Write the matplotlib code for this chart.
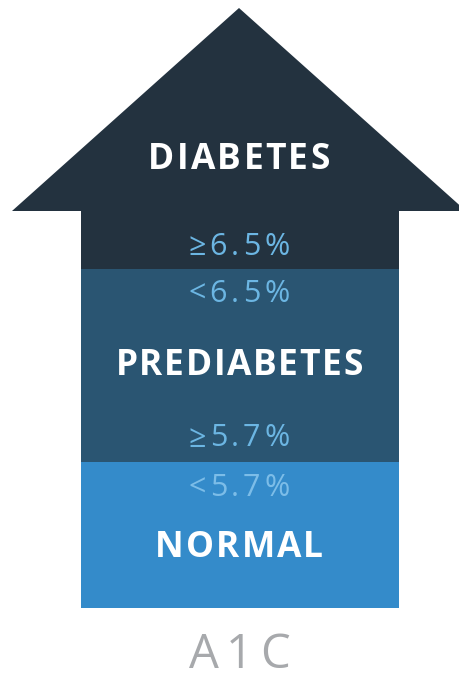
import matplotlib.pyplot as plt
from matplotlib.patches import Polygon, Rectangle
from matplotlib.font_manager import FontProperties, findfont
from matplotlib.ft2font import FT2Font

# niveles de A1C (de arriba a abajo)
categorias = ['DIABETES', 'PREDIABETES', 'NORMAL']
umbral_arriba = ['', '<6.5%', '<5.7%']
umbral_abajo = ['≥6.5%', '≥5.7%', '']
colores = ['#23323f', '#2a5572', '#348bca']
eje = 'A1C'

DPI = 100
fig = plt.figure(figsize=(4.6, 6.74), dpi=DPI)
ax = fig.add_axes([0, 0, 1, 1])
ax.set_xlim(0, 460)
ax.set_ylim(674, 0)
ax.axis('off')


def texto_espaciado(x, y, s, size, color, weight='normal', track=0.0):
    # matplotlib no tiene letter-spacing, coloco letra a letra (y = linea base)
    fp = FontProperties(family='Open Sans', weight=weight, size=size)
    f = FT2Font(findfont(fp))
    f.set_size(size, DPI)
    px = size * DPI / 72.0
    avances = [f.load_char(ord(c)).linearHoriAdvance / 65536.0 for c in s]
    total = sum(avances) + track * px * (len(s) - 1)
    pos = x - total / 2
    for c, a in zip(s, avances):
        ax.text(pos + a / 2, y, c, fontproperties=fp, color=color,
                ha='center', va='baseline')
        pos += a + track * px


# flecha: punta + tramos del cuerpo
cx = 239
ax.add_patch(Polygon([(12, 211), (cx, 8), (466, 211)], closed=True,
                     facecolor=colores[0], edgecolor='none'))
tramos = [(211, 269), (269, 462), (462, 608)]
for (y0, y1), col in zip(tramos, colores):
    ax.add_patch(Rectangle((81, y0), 318, y1 - y0, facecolor=col,
                           edgecolor='none'))

pos_nombre = [169, 375, 557]
track_nombre = [0.065, 0.045, 0.06]
pos_arriba = [None, 302.5, 496.5]
pos_abajo = [255, 446.5, None]
col_pct = ['#6cb6e3', '#6cb6e3', '#7cbde8']

for i, nom in enumerate(categorias):
    texto_espaciado(cx, pos_nombre[i], nom, 25.5, 'white', 'bold',
                    track_nombre[i])
    if umbral_arriba[i]:
        texto_espaciado(cx, pos_arriba[i], umbral_arriba[i], 22, col_pct[i],
                        'normal', 0.13)
    if umbral_abajo[i]:
        texto_espaciado(cx, pos_abajo[i], umbral_abajo[i], 22, col_pct[i],
                        'normal', 0.13)

texto_espaciado(cx, 668, eje, 34, '#a7a9ac', 'normal', 0.15)

fig.savefig('out.png', dpi=DPI)
